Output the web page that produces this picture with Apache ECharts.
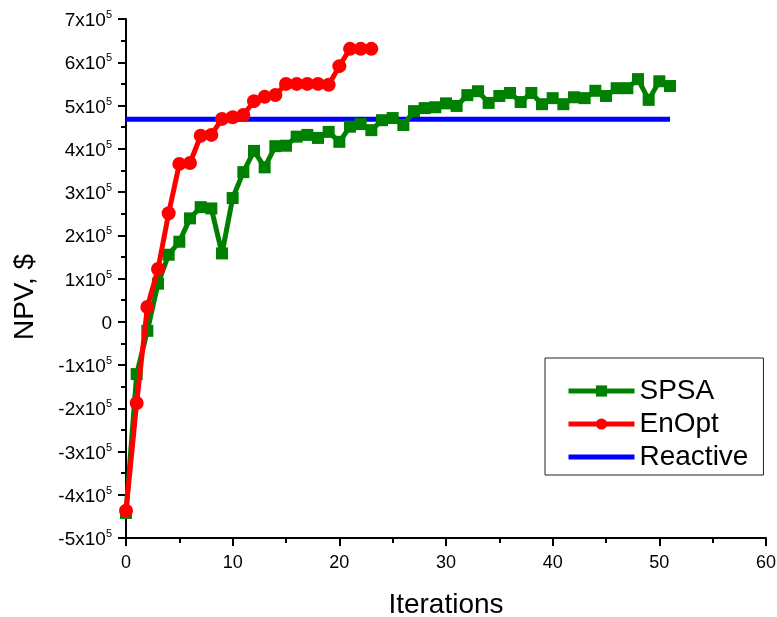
<!DOCTYPE html>
<html>
<head>
<meta charset="utf-8">
<script src="https://cdn.jsdelivr.net/npm/echarts@6/dist/echarts.min.js"></script>
<style>
  html, body { margin: 0; padding: 0; background: #fff; }
  #chart { width: 777px; height: 617px; }
</style>
</head>
<body>
<div id="chart"></div>
<script>
// NPV per iteration, in units of 1e5 $
const spsaNpv = [
  -4.42, -1.21, -0.21, 0.88, 1.55, 1.85, 2.39, 2.65, 2.62, 1.58,
  2.86, 3.46, 3.95, 3.57, 4.06, 4.07, 4.28, 4.32, 4.25, 4.39,
  4.16, 4.51, 4.57, 4.43, 4.66, 4.71, 4.55, 4.87, 4.94, 4.96,
  5.05, 4.99, 5.24, 5.33, 5.06, 5.22, 5.29, 5.08, 5.29, 5.03,
  5.17, 5.03, 5.19, 5.17, 5.34, 5.22, 5.40, 5.40, 5.61, 5.13,
  5.56, 5.45
];
const enoptNpv = [
  -4.37, -1.88, 0.34, 1.22, 2.51, 3.65, 3.67, 4.30, 4.32, 4.69,
  4.73, 4.78, 5.10, 5.20, 5.24, 5.50, 5.50, 5.50, 5.50, 5.48,
  5.91, 6.31, 6.31, 6.31
];
// Reactive strategy: constant NPV over the run
const reactiveNpv = 4.68;
const reactiveSpan = [0, 51];

const yTicks = [-5, -4, -3, -2, -1, 0, 1, 2, 3, 4, 5, 6, 7];
const scale = 1e5;

const toPairs = arr => arr.map((v, i) => [i, v * scale]);

const chart = echarts.init(document.getElementById('chart'), null, { renderer: 'canvas' });

const font = 'Liberation Sans, Arial, sans-serif';

chart.setOption({
  animation: false,
  backgroundColor: '#fff',
  grid: { left: 126, right: 11, top: 19, bottom: 79, containLabel: false, outerBoundsMode: 'none' },
  graphic: [{
    type: 'text',
    x: 25,
    y: 297,
    rotation: Math.PI / 2,
    style: {
      text: 'NPV, $',
      fontFamily: font,
      fontSize: 28,
      fill: '#000',
      align: 'center',
      verticalAlign: 'middle'
    }
  }],
  xAxis: {
    type: 'value',
    min: 0, max: 60, interval: 10,
    name: 'Iterations',
    nameLocation: 'middle',
    nameGap: 53,
    nameTextStyle: { fontFamily: font, fontSize: 28, color: '#000' },
    axisLine: { onZero: false, lineStyle: { color: '#000', width: 2 } },
    axisTick: { inside: false, length: 8, lineStyle: { color: '#000', width: 2 } },
    minorTick: { show: true, splitNumber: 2, length: 5, lineStyle: { color: '#000', width: 2 } },
    splitLine: { show: false },
    axisLabel: { fontFamily: font, fontSize: 18, color: '#000', margin: 16 }
  },
  yAxis: {
    type: 'value',
    min: yTicks[0] * scale, max: yTicks[yTicks.length - 1] * scale, interval: scale,
    axisLine: { onZero: false, lineStyle: { color: '#000', width: 2 } },
    axisTick: { inside: false, length: 8, lineStyle: { color: '#000', width: 2 } },
    minorTick: { show: true, splitNumber: 2, length: 5, lineStyle: { color: '#000', width: 2 } },
    splitLine: { show: false },
    axisLabel: {
      margin: 14,
      color: '#000',
      formatter: v => {
        const n = Math.round(v / scale);
        if (n === 0) return '{b|0}';
        return '{b|' + n + 'x10}{s|5}';
      },
      rich: {
        b: { fontFamily: font, fontSize: 19, color: '#000', padding: [4, 0, 0, 0] },
        s: { fontFamily: font, fontSize: 11, color: '#000', padding: [0, 0, 8, 0] }
      }
    }
  },
  legend: {
    orient: 'vertical',
    left: 545,
    top: 358,
    backgroundColor: '#fff',
    borderColor: '#222',
    borderWidth: 1,
    borderRadius: 0,
    padding: [19, 15, 4, 21],
    itemGap: 5,
    itemWidth: 66,
    itemHeight: 14,
    lineStyle: { width: 5 },
    textStyle: { fontFamily: font, fontSize: 28, color: '#000' },
    data: [
      { name: 'SPSA' },
      { name: 'EnOpt' },
      { name: 'Reactive', itemStyle: { opacity: 0 } }
    ]
  },
  series: [
    {
      name: 'Reactive',
      type: 'line',
      data: reactiveSpan.map(x => [x, reactiveNpv * scale]),
      showSymbol: false,
      symbol: 'none',
      lineStyle: { color: '#0000ff', width: 5 },
      itemStyle: { color: '#0000ff' },
      z: 2
    },
    {
      name: 'SPSA',
      type: 'line',
      data: toPairs(spsaNpv),
      symbol: 'rect',
      symbolSize: 12,
      lineStyle: { color: '#008000', width: 5 },
      itemStyle: { color: '#008000' },
      z: 3
    },
    {
      name: 'EnOpt',
      type: 'line',
      data: toPairs(enoptNpv),
      symbol: 'circle',
      symbolSize: 14,
      lineStyle: { color: '#ff0000', width: 5 },
      itemStyle: { color: '#ff0000' },
      z: 4
    }
  ]
});
</script>
</body>
</html>
